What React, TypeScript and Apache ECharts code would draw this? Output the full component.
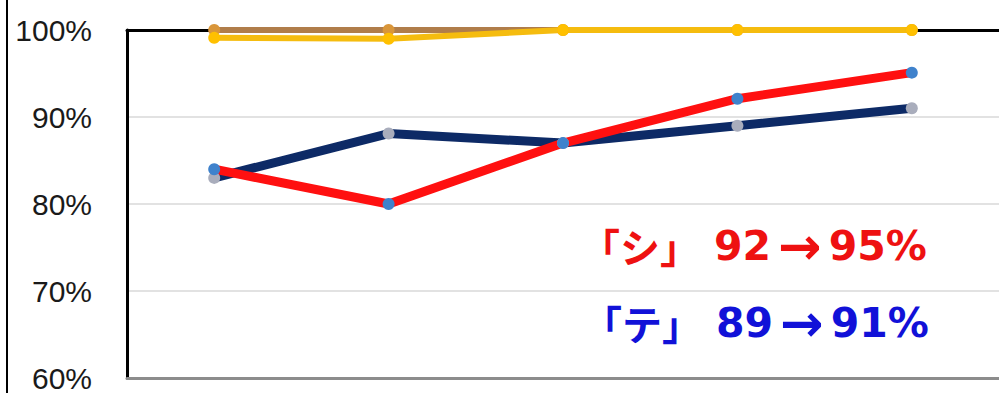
import React, { useEffect, useRef } from "react";
import * as echarts from "echarts";

const categories = ["1", "2", "3", "4", "5"];
const brownValues = [100, 100, 100, 100, 100];
const yellowValues = [99.1, 99, 100, 100, 100];
const navyValues = [83, 88.1, 87, 89, 91];
const redValues = [84, 80, 87, 92.1, 95.1];
const yTicks = [60, 70, 80, 90, 100];
const redNote = ["「シ」", "92", "→", "95%"];
const blueNote = ["「テ」", "89", "→", "91%"];

const noteRich = (color: string) => ({
  k: { fill: color, font: "bold 40px 'Noto Sans CJK JP'", padding: [0, 14, 0, 0], verticalAlign: "middle" },
  n: { fill: color, font: "bold 41px 'DejaVu Sans'", verticalAlign: "middle" },
  a: { fill: color, font: "bold 52px 'DejaVu Sans'", padding: [0, 7, 0, 7], verticalAlign: "middle" },
});

const noteText = (p: string[]) => `{k|${p[0]}}{n|${p[1]}}{a|${p[2]}}{n|${p[3]}}`;

export default function App() {
  const ref = useRef<HTMLDivElement>(null);
  useEffect(() => {
    if (!ref.current) return;
    const chart = echarts.init(ref.current, null, { renderer: "svg" });
    chart.setOption({
      animation: false,
      backgroundColor: "#ffffff",
      grid: { left: 127, top: 30, width: 877, height: 351 },
      xAxis: [
        {
          type: "category",
          data: categories,
          boundaryGap: true,
          axisLine: { show: true, lineStyle: { color: "#8c8c8c", width: 3 } },
          axisTick: { show: false },
          axisLabel: { show: false },
        },
        {
          type: "category",
          data: categories,
          position: "top",
          boundaryGap: true,
          axisLine: { show: true, lineStyle: { color: "#000000", width: 3 } },
          axisTick: { show: false },
          axisLabel: { show: false },
        },
      ],
      yAxis: {
        type: "value",
        min: yTicks[0],
        max: yTicks[yTicks.length - 1],
        interval: 10,
        axisLine: { show: true, lineStyle: { color: "#000000", width: 3 } },
        axisTick: { show: false },
        axisLabel: {
          formatter: "{value}%",
          margin: 35,
          fontSize: 30,
          color: "#1a1a1a",
          fontFamily: "Liberation Sans",
        },
        splitLine: { show: true, lineStyle: { color: "#d9d9d9", width: 1.5 } },
      },
      graphic: [
        {
          type: "line",
          shape: { x1: 7, y1: 0, x2: 7, y2: 393 },
          style: { stroke: "#000000", lineWidth: 2 },
        },
        {
          type: "text",
          left: 580,
          top: 220,
          style: { text: noteText(redNote), rich: noteRich("#ee1111") },
        },
        {
          type: "text",
          left: 582,
          top: 297,
          style: { text: noteText(blueNote), rich: noteRich("#1111d8") },
        },
      ],
      series: [
        {
          type: "line",
          data: brownValues,
          symbol: "circle",
          symbolSize: 12,
          lineStyle: { color: "#b07d4a", width: 6 },
          itemStyle: { color: "#d9963a" },
        },
        {
          type: "line",
          data: yellowValues,
          symbol: "circle",
          symbolSize: 12,
          lineStyle: { color: "#f5bc0f", width: 6 },
          itemStyle: { color: "#ffc000" },
        },
        {
          type: "line",
          data: navyValues,
          symbol: "circle",
          symbolSize: 12,
          lineStyle: { color: "#0d2a66", width: 9 },
          itemStyle: { color: "#a9adbc" },
        },
        {
          type: "line",
          data: redValues,
          symbol: "circle",
          symbolSize: 12,
          lineStyle: { color: "#ff1010", width: 9 },
          itemStyle: { color: "#3f82cc" },
        },
      ],
    });
    return () => chart.dispose();
  }, []);
  return <div ref={ref} style={{ width: 999, height: 393, position: "absolute", left: 0, top: 0 }} />;
}
